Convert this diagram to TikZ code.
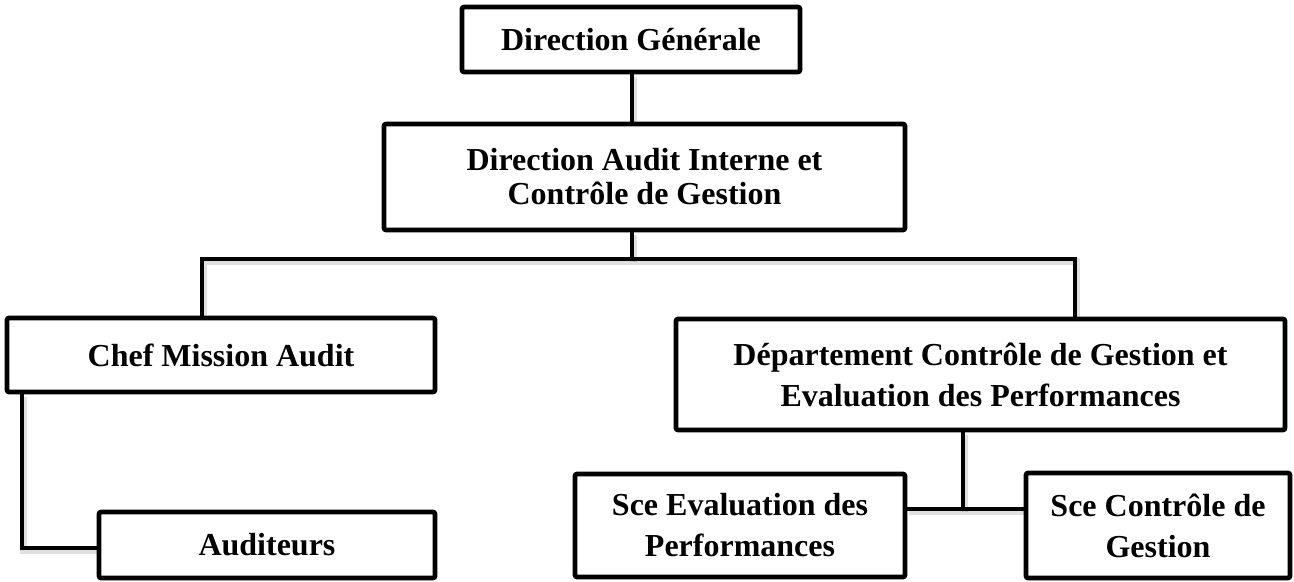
\documentclass[tikz,border=0pt]{standalone}
\usepackage{fontspec}
\setmainfont{Liberation Serif}
\begin{document}
\begin{tikzpicture}[x=0.5pt,y=-0.5pt,
  orgbox/.style={draw=black, line width=2.3pt, rounded corners=1pt, fill=white,
    align=center, inner sep=0pt, font=\bfseries\fontsize{16}{20.5}\selectfont},
  tightbox/.style={orgbox, font=\bfseries\fontsize{16}{17}\selectfont},
  link/.style={draw=black, line width=2.1pt, line join=miter,
    preaction={draw=black, opacity=0.12, line width=3.5pt,
      transform canvas={shift={(0.6pt,-1.4pt)}}}}]
\fill[white] (0,0) rectangle (1294,582);
\useasboundingbox (0,0) rectangle (1294,582);

\node[orgbox, minimum width=169pt, minimum height=32.5pt] (dg) at (631,39.5) {Direction Générale};
\node[tightbox, minimum width=260.5pt, minimum height=53pt] (daicg) at (644.5,177) {Direction Audit Interne et\\Contrôle de Gestion};
\node[orgbox, minimum width=214pt, minimum height=37pt] (cma) at (221,355) {Chef Mission Audit};
\node[orgbox, minimum width=168pt, minimum height=33pt] (aud) at (267,545) {Auditeurs};
\node[orgbox, minimum width=304.5pt, minimum height=55.5pt] (dcg) at (980.5,374.5) {Département Contrôle de Gestion et\\Evaluation des Performances};
\node[orgbox, minimum width=165pt, minimum height=51.5pt] (sce) at (740,525.5) {Sce Evaluation des\\Performances};
\node[orgbox, minimum width=132pt, minimum height=52.5pt] (scc) at (1158,525.5) {Sce Contrôle de\\Gestion};

\coordinate (top) at (632,100);
\coordinate (bus) at (632,259);
\coordinate (busl) at (202,259);
\coordinate (busr) at (1075,259);
\coordinate (bend) at (22,548);
\coordinate (svc) at (963,509);

\draw[link] (dg.south -| top) -- (daicg.north -| top);
\draw[link] (daicg.south -| bus) -- (bus);
\draw[link] (cma.north -| busl) -- (busl) -- (busr) -- (dcg.north -| busr);
\draw[link] (cma.south -| bend) -- (bend) -- (aud.west |- bend);
\draw[link] (dcg.south -| svc) -- (svc);
\draw[link] (sce.east |- svc) -- (scc.west |- svc);
\end{tikzpicture}
\end{document}
